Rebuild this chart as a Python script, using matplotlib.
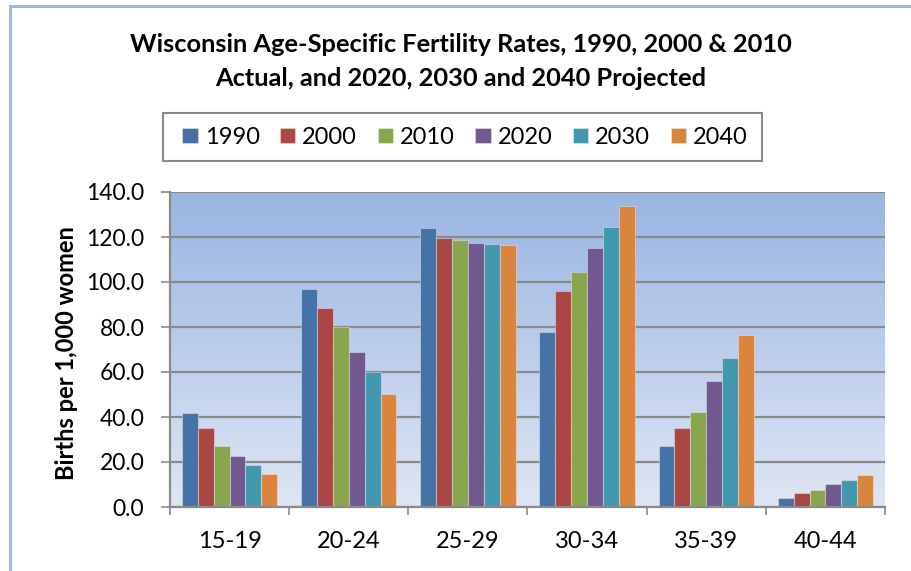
import matplotlib
matplotlib.use("Agg")
import matplotlib.pyplot as plt
import numpy as np
from matplotlib.lines import Line2D
from matplotlib.patches import Rectangle
from matplotlib.colors import LinearSegmentedColormap

categories = ["15-19", "20-24", "25-29", "30-34", "35-39", "40-44"]
series_names = ["1990", "2000", "2010", "2020", "2030", "2040"]
v1990 = [42.0, 96.7, 124.0, 77.7, 27.1, 4.2]
v2000 = [35.3, 88.3, 119.7, 95.8, 35.2, 6.2]
v2010 = [26.9, 79.9, 118.6, 104.4, 42.1, 7.7]
v2020 = [22.7, 69.0, 117.2, 115.1, 56.2, 10.1]
v2030 = [18.7, 59.8, 116.9, 124.4, 66.4, 12.2]
v2040 = [14.8, 50.4, 116.6, 133.9, 76.5, 14.1]
series_values = [v1990, v2000, v2010, v2020, v2030, v2040]
colors = ["#4572A7", "#AA4643", "#89A54E", "#71588F", "#4198AF", "#DB843D"]
yticks = [0, 20, 40, 60, 80, 100, 120, 140]

plt.rcParams['font.family'] = ['Lato', 'DejaVu Sans']

W, H = 912, 571
fig = plt.figure(figsize=(W/100, H/100), dpi=100)

# outer chart border (top and left visible)
fig.add_artist(Line2D([10/W, 10/W], [0, 1 - 6/H], color="#9BB7E5", lw=2.2, transform=fig.transFigure))
fig.add_artist(Line2D([10/W, 1], [1 - 6/H, 1 - 6/H], color="#9BB7E5", lw=2.2, transform=fig.transFigure))

left, right, top, bottom = 170, 885, 192, 507
ax = fig.add_axes([left/W, 1 - bottom/H, (right-left)/W, (bottom-top)/H])

# gradient background
grad = np.linspace(0, 1, 256).reshape(-1, 1)
cmap = LinearSegmentedColormap.from_list("bg", ["#DFE6F4", "#99B5E2"])
ax.imshow(grad, extent=[-0.5, 5.5, 0, 140], origin="lower", aspect="auto", cmap=cmap, zorder=0)

n = len(series_names)
w = 0.8 / n
x = np.arange(len(categories))
for i, (name, vals, c) in enumerate(zip(series_names, series_values, colors)):
    ax.bar(x - 0.4 + w*(i + 0.5), vals, width=w, color=c, edgecolor=(1, 1, 1, 0.35),
           linewidth=0.8, label=name, zorder=3)

ax.set_xlim(-0.5, 5.5)
ax.set_ylim(0, 140)
ax.set_yticks(yticks)
ax.set_yticklabels([f"{v:.1f}" for v in yticks], fontsize=16.5)
for yv in yticks:
    ax.axhline(yv, color="#8A8A8A", lw=1.6, zorder=2)

ax.set_xticks(x)
ax.set_xticklabels(categories, fontsize=17)
ax.tick_params(axis="x", length=0, pad=17)
ax.set_xticks(np.arange(-0.5, 6.0, 1), minor=True)
ax.tick_params(axis="x", which="minor", length=6, width=1.2, color="#8A8A8A", direction="out")
ax.tick_params(axis="y", length=6.5, width=1.2, color="#8A8A8A", direction="out", pad=12)

for s in ["top", "right"]:
    ax.spines[s].set_visible(False)
for s in ["left", "bottom"]:
    ax.spines[s].set_color("#8A8A8A")
    ax.spines[s].set_linewidth(1.6)
    ax.spines[s].set_zorder(4)

ax.set_ylabel("Births per 1,000 women", fontsize=17, fontweight="bold")
ax.yaxis.set_label_coords(-0.128, 0.49)

fig.text(461/W, 1 - 45/H, "Wisconsin Age-Specific Fertility Rates, 1990, 2000 & 2010",
         ha="center", va="center", fontsize=18.3, fontweight="bold")
fig.text(461/W, 1 - 79/H, "Actual, and 2020, 2030 and 2040 Projected",
         ha="center", va="center", fontsize=18.3, fontweight="bold")

# legend frame drawn separately
fig.add_artist(Rectangle((163/W, 1 - 161/H), (762-163)/W, (161-113)/H, transform=fig.transFigure,
                         facecolor="white", edgecolor="#8A8A8A", lw=1.5, zorder=1))
leg = fig.legend(loc="center", bbox_to_anchor=(465/W, 1 - 137.5/H), ncol=6, fontsize=17,
                 frameon=False, handlelength=0.64,
                 handleheight=0.6, handletextpad=0.3, columnspacing=0.87, borderpad=0.3,
                 borderaxespad=0)
leg.set_zorder(2)

fig.savefig("out.png", dpi=100)
